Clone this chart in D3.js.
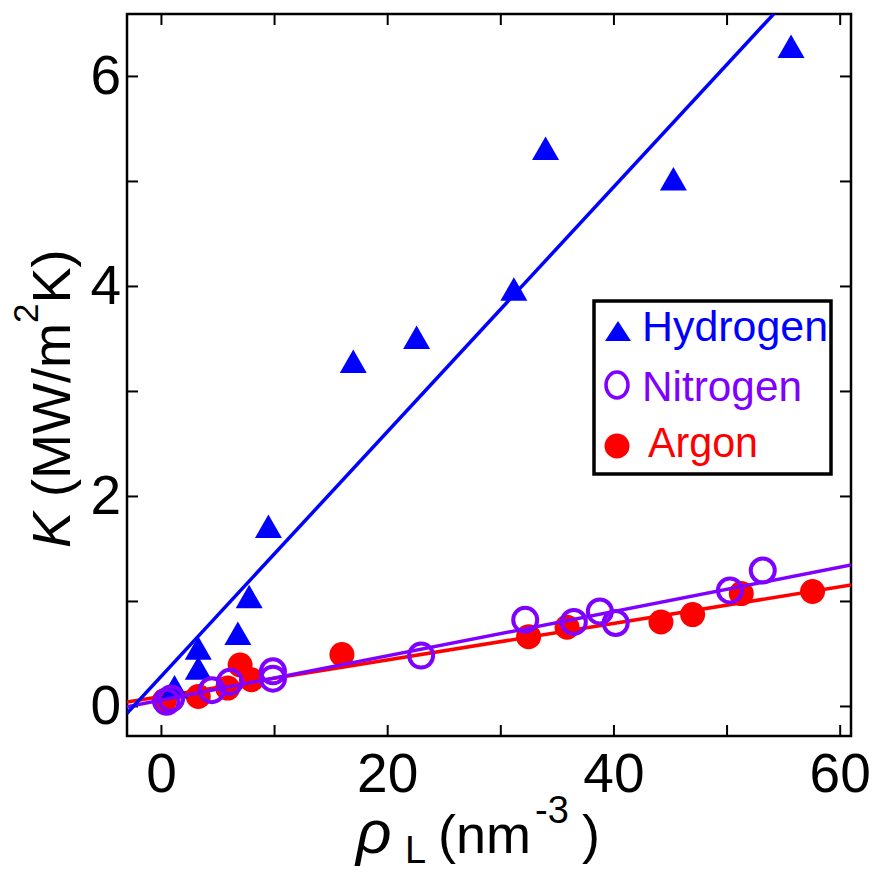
<!DOCTYPE html>
<html>
<head>
<meta charset="utf-8">
<script src="https://cdn.jsdelivr.net/npm/d3@7"></script>
<style>
  body { margin: 0; background: #fff; }
  svg text { font-family: "Liberation Sans", Arial, sans-serif; }
</style>
</head>
<body>
<svg id="chart" width="873" height="873"></svg>
<script>
// data
const hydrogenX = [1.2, 3.3, 3.3, 6.8, 7.8, 9.5, 17.0, 22.6, 31.2, 34.0, 45.3, 55.7];
const hydrogenK = [0.17, 0.35, 0.54, 0.68, 1.03, 1.70, 3.27, 3.50, 3.96, 5.30, 5.01, 6.27];

const nitrogenX = [0.5, 0.9, 4.5, 6.1, 9.9, 9.9, 23.0, 32.2, 36.5, 38.8, 40.2, 50.3, 53.2];
const nitrogenK = [0.04, 0.07, 0.15, 0.23, 0.33, 0.26, 0.48, 0.82, 0.80, 0.90, 0.79, 1.10, 1.29];

const argonX = [0.3, 3.3, 5.9, 7.0, 8.0, 16.0, 32.5, 35.9, 44.2, 47.0, 51.3, 57.6];
const argonK = [0.05, 0.09, 0.17, 0.39, 0.25, 0.49, 0.66, 0.75, 0.80, 0.87, 1.07, 1.09];

// linear fits: K = slope * rho + intercept
const seriesNames = ["Hydrogen", "Nitrogen", "Argon"];
const fitSlope = [0.1165, 0.0211, 0.0174];
const fitIntercept = [0.28, 0.055, 0.09];

const xTicks = [0, 10, 20, 30, 40, 50, 60];
const yTicks = [0, 1, 2, 3, 4, 5, 6];

const colors = { Hydrogen: "#0000ff", Nitrogen: "#8000ff", Argon: "#ff0000" };

function drawChart() {
    const svg = d3.select("#chart"),
          width = 873, height = 873,
          margin = { top: 14, right: 22, bottom: 137, left: 127 };
    const w = width - margin.left - margin.right,
          h = height - margin.top - margin.bottom;

    const g = svg.append("g").attr("transform", `translate(${margin.left},${margin.top})`);

    const x = d3.scaleLinear().domain([-3, 61]).range([0, w]);
    const y = d3.scaleLinear().domain([-0.286, 6.59]).range([h, 0]);

    g.append("clipPath").attr("id", "clip")
        .append("rect").attr("width", w).attr("height", h);

    const tickLen = 11;
    const fontSize = 55;

    // Axes (ticks inward, mirrored on top/right)
    const xAxis = g.append("g")
        .attr("transform", `translate(0,${h})`)
        .call(d3.axisBottom(x).tickValues(xTicks).tickSize(-tickLen).tickPadding(17)
            .tickFormat(d => d % 20 === 0 ? d : ""));
    const yAxis = g.append("g")
        .call(d3.axisLeft(y).tickValues(yTicks).tickSize(-tickLen).tickPadding(6)
            .tickFormat(d => d % 2 === 0 ? d : ""));
    const xTop = g.append("g")
        .call(d3.axisTop(x).tickValues(xTicks).tickSize(-tickLen).tickFormat(""));
    const yRight = g.append("g")
        .attr("transform", `translate(${w},0)`)
        .call(d3.axisRight(y).tickValues(yTicks).tickSize(-tickLen).tickFormat(""));

    [xAxis, yAxis, xTop, yRight].forEach(a => {
        a.select(".domain").remove();
        a.selectAll(".tick line").attr("stroke", "#000").attr("stroke-width", 2);
        a.selectAll("text").attr("font-size", fontSize).attr("fill", "#000")
            .attr("font-family", "'Liberation Sans', Arial, sans-serif");
    });

    // frame
    g.append("rect")
        .attr("width", w).attr("height", h)
        .attr("fill", "none").attr("stroke", "#000").attr("stroke-width", 2.5);

    const plot = g.append("g").attr("clip-path", "url(#clip)");

    const line = d3.line().x(d => x(d[0])).y(d => y(d[1]));
    function fitPoints(i) {
        return x.domain().map(v => [v, fitSlope[i] * v + fitIntercept[i]]);
    }

    // Argon: filled dots
    const argon = argonX.map((v, i) => ({ x: v, k: argonK[i] }));
    plot.selectAll(".ar").data(argon).enter().append("circle")
        .attr("cx", d => x(d.x)).attr("cy", d => y(d.k)).attr("r", 12.5)
        .attr("fill", colors.Argon);
    plot.append("path").attr("d", line(fitPoints(2)))
        .attr("fill", "none").attr("stroke", colors.Argon).attr("stroke-width", 3.5);

    // Hydrogen: triangles
    const hydrogen = hydrogenX.map((v, i) => ({ x: v, k: hydrogenK[i] }));
    plot.selectAll(".h2").data(hydrogen).enter().append("path")
        .attr("transform", d => `translate(${x(d.x)},${y(d.k)})`)
        .attr("d", "M0,-13L13.5,10.5L-13.5,10.5Z")
        .attr("fill", colors.Hydrogen);

    // Nitrogen: open circles
    const nitrogen = nitrogenX.map((v, i) => ({ x: v, k: nitrogenK[i] }));
    plot.selectAll(".n2").data(nitrogen).enter().append("circle")
        .attr("cx", d => x(d.x)).attr("cy", d => y(d.k)).attr("r", 12)
        .attr("fill", "none").attr("stroke", colors.Nitrogen).attr("stroke-width", 4);
    plot.append("path").attr("d", line(fitPoints(1)))
        .attr("fill", "none").attr("stroke", colors.Nitrogen).attr("stroke-width", 3.5);

    plot.append("path").attr("d", line(fitPoints(0)))
        .attr("fill", "none").attr("stroke", colors.Hydrogen).attr("stroke-width", 3.5);

    // Legend
    const legend = svg.append("g");
    legend.append("rect")
        .attr("x", 594).attr("y", 301).attr("width", 237).attr("height", 173)
        .attr("fill", "#fff").attr("stroke", "#000").attr("stroke-width", 3.5);

    const legendRows = [
        { name: "Hydrogen", base: 341, textX: 642, len: 186 },
        { name: "Nitrogen", base: 401, textX: 642, len: 160 },
        { name: "Argon", base: 457, textX: 648, len: 110 }
    ];
    legendRows.forEach(r => {
        legend.append("text")
            .attr("x", r.textX).attr("y", r.base)
            .attr("font-size", 43)
            .attr("textLength", r.len).attr("lengthAdjust", "spacingAndGlyphs")
            .attr("fill", colors[r.name])
            .text(r.name);
    });
    legend.append("path")
        .attr("transform", "translate(618,331)")
        .attr("d", "M0,-10L13,10L-13,10Z")
        .attr("fill", colors.Hydrogen);
    legend.append("ellipse")
        .attr("cx", 617).attr("cy", 385).attr("rx", 11).attr("ry", 13)
        .attr("fill", "none").attr("stroke", colors.Nitrogen).attr("stroke-width", 3.5);
    legend.append("circle")
        .attr("cx", 617).attr("cy", 446).attr("r", 12.5)
        .attr("fill", colors.Argon);

    // X label: rho_L (nm^-3 )
    const xl = svg.append("text").attr("y", 853).attr("font-size", 54).attr("fill", "#000");
    xl.append("tspan").attr("x", 356).attr("font-size", 62).attr("font-style", "italic").text("ρ");
    xl.append("tspan").attr("x", 405).attr("dy", 10).attr("font-size", 38).text("L");
    xl.append("tspan").attr("x", 438).attr("dy", -10).text("(nm");
    xl.append("tspan").attr("x", 535).attr("dy", -30).attr("font-size", 38).text("-3");
    xl.append("tspan").attr("x", 582).attr("dy", 30).text(")");

    // Y label: K (MW/m^2K)
    const yl = svg.append("text")
        .attr("transform", "translate(70,548) rotate(-90)")
        .attr("font-size", 54).attr("fill", "#000");
    yl.append("tspan").attr("font-style", "italic").text("K");
    yl.append("tspan").text(" (MW/m");
    yl.append("tspan").attr("font-size", 35).attr("dy", -32).text("2");
    yl.append("tspan").attr("dy", 32).text("K)");
}

drawChart();
</script>
</body>
</html>
